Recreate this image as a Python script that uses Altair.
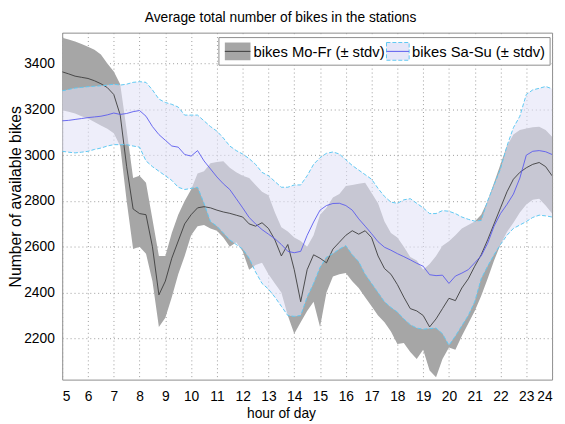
import altair as alt
import pandas as pd

hours = [
    5.0, 5.25, 5.5, 5.75, 6.0, 6.25, 6.5, 6.75, 7.0, 7.25, 7.5, 7.75,
    8.0, 8.25, 8.5, 8.75, 9.0, 9.25, 9.5, 9.75, 10.0, 10.25, 10.5, 10.75,
    11.0, 11.25, 11.5, 11.75, 12.0, 12.25, 12.5, 12.75, 13.0, 13.25, 13.5, 13.75,
    14.0, 14.25, 14.5, 14.75, 15.0, 15.25, 15.5, 15.75, 16.0, 16.25, 16.5, 16.75,
    17.0, 17.25, 17.5, 17.75, 18.0, 18.25, 18.5, 18.75, 19.0, 19.25, 19.5, 19.75,
    20.0, 20.25, 20.5, 20.75, 21.0, 21.25, 21.5, 21.75, 22.0, 22.25, 22.5, 22.75,
    23.0, 23.25, 23.5, 23.75, 24.0,
]

# Mo-Fr mean and +/- stdv
wd_mean = [
    3364, 3355, 3345, 3340, 3335, 3325, 3312, 3295, 3265, 3175, 2950, 2765,
    2745, 2740, 2600, 2390, 2450, 2550, 2625, 2700, 2740, 2770, 2775, 2770,
    2760, 2752, 2746, 2738, 2730, 2700, 2690, 2705, 2680, 2630, 2560, 2610,
    2500, 2360, 2500, 2565, 2550, 2530, 2590, 2620, 2650, 2670, 2655, 2670,
    2640, 2560, 2505, 2480, 2435, 2380, 2330, 2320, 2300, 2250, 2285, 2330,
    2375, 2365, 2420, 2460, 2515, 2565, 2630, 2700, 2770, 2840, 2895, 2925,
    2945, 2960, 2968, 2950, 2910,
]
wd_hi = [
    3513, 3505, 3496, 3485, 3474, 3460, 3440, 3400, 3365, 3310, 3110, 2900,
    2910, 2880, 2720, 2560, 2560, 2660, 2740, 2800, 2850, 2920, 2930, 2965,
    2970, 2974, 2945, 2925, 2910, 2900, 2870, 2840, 2825, 2750, 2685, 2667,
    2640, 2625, 2600, 2650, 2740, 2770, 2815, 2830, 2865, 2870, 2875, 2880,
    2835, 2790, 2710, 2660, 2640, 2600, 2555, 2540, 2500, 2525, 2560, 2605,
    2624, 2650, 2680, 2695, 2710, 2740, 2800, 2880, 2960, 3040, 3090, 3110,
    3117, 3122, 3124, 3110, 3080,
]
wd_lo = [
    3196, 3190, 3182, 3170, 3160, 3145, 3130, 3115, 3096, 3040, 2800, 2590,
    2600, 2570, 2450, 2250, 2290, 2380, 2480, 2560, 2650, 2690, 2695, 2680,
    2670, 2640, 2600, 2620, 2580, 2500, 2520, 2530, 2480, 2440, 2400, 2300,
    2220, 2270, 2320, 2360, 2250, 2400, 2470, 2480, 2485, 2450, 2420, 2380,
    2340, 2300, 2270, 2230, 2175, 2180, 2140, 2110, 2150, 2060, 2030, 2110,
    2160, 2150, 2210, 2265, 2320, 2385, 2460, 2540, 2610, 2665, 2705, 2750,
    2785, 2805, 2810, 2780, 2745,
]

# Sa-Su mean and +/- stdv
we_mean = [
    3150, 3152, 3156, 3160, 3164, 3167, 3170, 3176, 3184, 3178, 3182, 3190,
    3195, 3170, 3125, 3090, 3065, 3040, 3035, 3003, 2996, 3020, 2975, 2940,
    2905, 2875, 2850, 2810, 2770, 2728, 2700, 2675, 2655, 2635, 2610, 2580,
    2574, 2580, 2650, 2708, 2760, 2780, 2789, 2790, 2780, 2760, 2722, 2690,
    2657, 2622, 2598, 2585, 2570, 2557, 2543, 2528, 2515, 2478, 2474, 2476,
    2440, 2472, 2485, 2500, 2530, 2560, 2615, 2690, 2745, 2785, 2830, 2900,
    3000, 3017, 3020, 3015, 3003,
]
we_hi = [
    3281, 3287, 3293, 3296, 3299, 3301, 3303, 3306, 3310, 3306, 3310, 3318,
    3321, 3318, 3285, 3245, 3230, 3222, 3210, 3175, 3175, 3175, 3150, 3125,
    3105, 3075, 3040, 3020, 3005, 2985, 2960, 2925, 2910, 2885, 2860, 2860,
    2870, 2870, 2910, 2960, 2989, 3008, 3014, 3005, 2980, 2955, 2935, 2915,
    2895, 2855, 2820, 2795, 2790, 2805, 2810, 2790, 2770, 2745, 2745, 2758,
    2755, 2745, 2730, 2720, 2712, 2715, 2800, 2870, 2940, 3040, 3120, 3170,
    3265, 3285, 3292, 3300, 3290,
]
we_lo = [
    3017, 3013, 3010, 3013, 3017, 3025, 3031, 3040, 3046, 3046, 3046, 3040,
    3035, 2975, 2950, 2930, 2910, 2890, 2860, 2850, 2855, 2860, 2790, 2710,
    2690, 2660, 2630, 2610, 2590, 2550, 2490, 2440, 2415, 2380, 2340, 2300,
    2296, 2300, 2380, 2440, 2510, 2555, 2570, 2590, 2605, 2565, 2535, 2480,
    2440, 2400, 2360, 2335, 2315, 2285, 2260, 2245, 2240, 2243, 2245, 2220,
    2170, 2210, 2255, 2300, 2360, 2460, 2515, 2565, 2610, 2650, 2680, 2695,
    2710, 2728, 2738, 2735, 2730,
]

x_ticks = list(range(5, 25))
y_ticks = [2200, 2400, 2600, 2800, 3000, 3200, 3400]

title_text = "Average total number of bikes in the stations"
x_title = "hour of day"
y_title = "Number of available bikes"
label_wd = "bikes Mo-Fr (\u00b1 stdv)"
label_we = "bikes Sa-Su (\u00b1 stdv)"

df = pd.DataFrame({
    "hour": hours,
    "wd_mean": wd_mean, "wd_hi": wd_hi, "wd_lo": wd_lo,
    "we_mean": we_mean, "we_hi": we_hi, "we_lo": we_lo,
})

FONT = "Liberation Sans"
GRAY_BAND = "#a6a6a6"
LAV = "#e1e1f6"
LAV_OP = 0.56
CYAN = "#5ec8f2"
WD_LINE = "#3c3c3c"
WE_LINE = "#5a5aee"

xs = alt.Scale(domain=[5, 24], nice=False, zero=False)
ys = alt.Scale(domain=[2020, 3535], nice=False, zero=False)
x_axis = alt.Axis(values=x_ticks, title=x_title, format="d",
                  labelPadding=10, labelFontSize=14, titlePadding=3, titleFontSize=14,
                  titleX=222)
y_axis = alt.Axis(values=y_ticks, title=y_title, format="d",
                  labelPadding=8, labelFontSize=14, titlePadding=0, titleFontSize=16,
                  titleY=166)


def X():
    return alt.X("hour:Q", scale=xs, axis=x_axis)


def Y(field):
    return alt.Y(f"{field}:Q", scale=ys, axis=y_axis)


base = alt.Chart(df)

wd_band = base.mark_area(color=GRAY_BAND, opacity=1, clip=True).encode(
    x=X(), y=Y("wd_lo"), y2="wd_hi")
wd_line = base.mark_line(color=WD_LINE, strokeWidth=0.9, clip=True).encode(
    x=X(), y=Y("wd_mean"))
we_band = base.mark_area(color=LAV, opacity=LAV_OP, clip=True).encode(
    x=X(), y=Y("we_lo"), y2="we_hi")
we_hi_line = base.mark_line(color=CYAN, strokeWidth=1, strokeDash=[4, 2], clip=True).encode(
    x=X(), y=Y("we_hi"))
we_lo_line = base.mark_line(color=CYAN, strokeWidth=1, strokeDash=[4, 2], clip=True).encode(
    x=X(), y=Y("we_lo"))
we_line = base.mark_line(color=WE_LINE, strokeWidth=0.9, clip=True).encode(
    x=X(), y=Y("we_mean"))

# legend box (decoration)
one = alt.Chart(pd.DataFrame({"k": [0]}))
leg_box = one.mark_rect(fill="white", stroke="#8c8c8c", strokeWidth=1).encode(
    x=alt.value(159), x2=alt.value(495), y=alt.value(5), y2=alt.value(33))
sw1 = one.mark_rect(fill=GRAY_BAND).encode(
    x=alt.value(165), x2=alt.value(191), y=alt.value(10), y2=alt.value(28))
sw1_line = one.mark_rule(color=WD_LINE, strokeWidth=1).encode(
    x=alt.value(165), x2=alt.value(191), y=alt.value(19))
txt1 = one.mark_text(align="left", baseline="middle", font=FONT, fontSize=15,
                     color="black").encode(
    x=alt.value(194), y=alt.value(20), text=alt.value(label_wd))
sw2 = one.mark_rect(fill="#e6e6f8", stroke=CYAN, strokeDash=[4, 2], strokeWidth=1).encode(
    x=alt.value(329), x2=alt.value(352), y=alt.value(10), y2=alt.value(28))
sw2_line = one.mark_rule(color=WE_LINE, strokeWidth=1).encode(
    x=alt.value(329), x2=alt.value(352), y=alt.value(19))
txt2 = one.mark_text(align="left", baseline="middle", font=FONT, fontSize=15,
                     color="black").encode(
    x=alt.value(355), y=alt.value(20), text=alt.value(label_we))

chart = alt.layer(
    wd_band, we_band, wd_line, we_hi_line, we_lo_line, we_line,
    leg_box, sw1, sw1_line, txt1, sw2, sw2_line, txt2,
).properties(
    width=497, height=352,
    autosize=alt.AutoSizeParams(type="none"),
    padding={"left": 55, "top": 22, "right": 5, "bottom": 40},
    title=alt.TitleParams(title_text, font=FONT, fontSize=14, fontWeight="normal",
                          color="black", anchor="middle", offset=8, dx=-27),
).configure_view(
    stroke="#8c8c8c", strokeWidth=1,
).configure_axis(
    labelFont=FONT, titleFont=FONT, labelColor="black",
    titleColor="black", titleFontWeight="normal",
    grid=True, gridColor="#9a9a9a", gridDash=[1, 3], gridWidth=1,
    ticks=False, domain=False, zindex=1,
)

chart.save("out.html", embed_options={"renderer": "svg", "actions": False})
